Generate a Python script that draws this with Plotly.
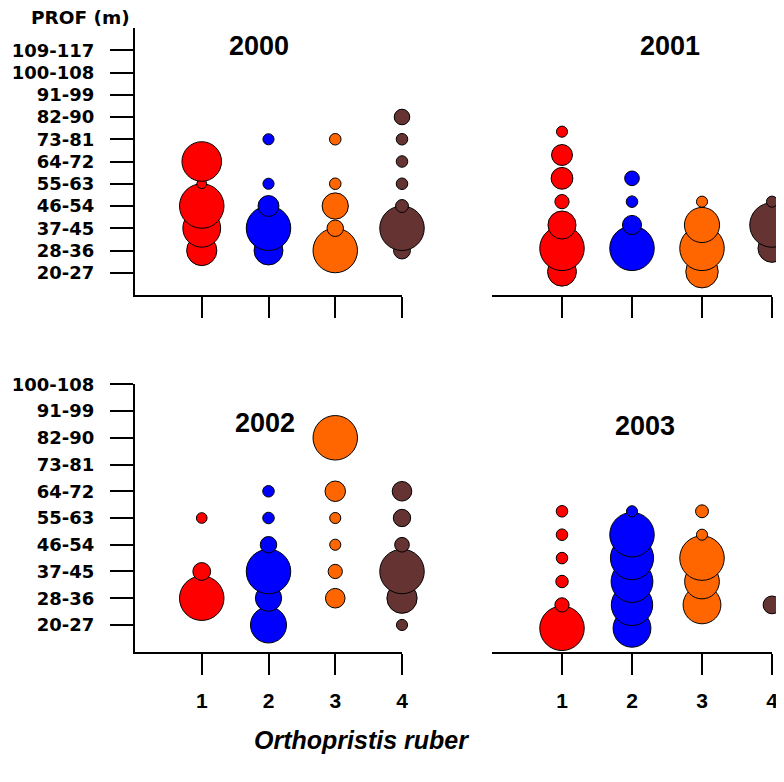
import plotly.graph_objects as go

W, H = 784, 782
OFF = 8  # page body margin compensation (px)

# ---------------- data ----------------
DEPTH_CLASSES = ["20-27", "28-36", "37-45", "46-54", "55-63", "64-72",
                 "73-81", "82-90", "91-99", "100-108", "109-117"]
QUARTERS = [1, 2, 3, 4]
YEARS = ["2000", "2001", "2002", "2003"]

# depth classes present per quarter (1..4) and relative bubble size (100 = largest)
depth_2000 = [
    ["28-36", "37-45", "46-54", "55-63", "64-72"],
    ["28-36", "37-45", "46-54", "55-63", "73-81"],
    ["28-36", "37-45", "46-54", "55-63", "73-81"],
    ["28-36", "37-45", "46-54", "55-63", "64-72", "73-81", "82-90"],
]
size_2000 = [
    [68, 85, 100, 22, 89],
    [65, 100, 47, 25, 25],
    [100, 37, 59, 26, 26],
    [38, 100, 29, 26, 26, 26, 35],
]

depth_2001 = [
    ["20-27", "28-36", "37-45", "46-54", "55-63", "64-72", "73-81"],
    ["28-36", "37-45", "46-54", "55-63"],
    ["20-27", "28-36", "37-45", "46-54"],
    ["28-36", "37-45", "46-54"],
]
size_2001 = [
    [65, 100, 63, 32, 49, 47, 25],
    [100, 43, 26, 33],
    [73, 100, 79, 25],
    [63, 100, 25],
]

depth_2002 = [
    ["28-36", "37-45", "55-63"],
    ["20-27", "28-36", "37-45", "46-54", "55-63", "64-72"],
    ["28-36", "37-45", "46-54", "55-63", "64-72", "82-90"],
    ["20-27", "28-36", "37-45", "46-54", "55-63", "64-72"],
]
size_2002 = [
    [100, 40, 24],
    [81, 59, 100, 37, 26, 26],
    [44, 32, 25, 25, 46, 100],
    [25, 68, 100, 33, 39, 44],
]

depth_2003 = [
    ["20-27", "28-36", "37-45", "46-54", "55-63", "64-72"],
    ["20-27", "28-36", "37-45", "46-54", "55-63", "64-72"],
    ["28-36", "37-45", "46-54", "55-63", "64-72"],
    ["28-36"],
]
size_2003 = [
    [100, 32, 28, 26, 26, 26],
    [85, 93, 94, 97, 100, 25],
    [85, 78, 100, 25, 29],
    [40],
]

# ---------------- styling / layout ----------------
COLORS = ["#FF0000", "#0000FF", "#FF6600", "#663333"]
SIZEREF = 100 / 44.5

def px_x(x):
    return (x - OFF) / W

def px_y(y):
    return 1 - (y - OFF) / H

def xdom(x0, x1):
    return [px_x(x0), px_x(x1)]

def ydom(top, bottom):
    return [px_y(bottom), px_y(top)]

# (year, depths, sizes, x-domain px, y-domain px (top,bottom), y range max, n labels, left axis?, x labels?, title pos)
panels = [
    ("2000", depth_2000, size_2000, (135, 402), (28, 295), 12, 11, True, False, (258.5, 46)),
    ("2001", depth_2001, size_2001, (492, 772), (15, 295), 12, 11, False, False, (670, 46)),
    ("2002", depth_2002, size_2002, (135, 402), (384.3, 651.7), 10, 10, True, True, (265.3, 423)),
    ("2003", depth_2003, size_2003, (492, 772), (417.7, 651.7), 10, 10, False, True, (644.5, 425.5)),
]

fig = go.Figure()
layout = dict(
    template="none",
    width=W, height=H, autosize=False,
    margin=dict(l=0, r=0, t=0, b=0, pad=0, autoexpand=False),
    paper_bgcolor="white", plot_bgcolor="white",
    showlegend=False,
)
annotations = []

for i, (year, depths, sizes, xd, yd, ymax, nlab, left, xlab, tpos) in enumerate(panels):
    n = "" if i == 0 else str(i + 1)
    xa, ya = "xaxis" + n, "yaxis" + n
    for q, dlist, slist, col in zip(QUARTERS, depths, sizes, COLORS):
        fig.add_trace(go.Scatter(
            x=[q] * len(dlist),
            y=[DEPTH_CLASSES.index(d) + 1 for d in dlist],
            mode="markers",
            marker=dict(size=slist, sizemode="diameter", sizeref=SIZEREF,
                        color=col, opacity=1,
                        line=dict(color="black", width=1)),
            cliponaxis=False,
            xaxis="x" + n, yaxis="y" + n,
            hoverinfo="skip",
        ))
    layout[xa] = dict(
        domain=xdom(*xd), range=[0, 4], anchor="y" + n, automargin=False,
        showline=True, linecolor="black", linewidth=2,
        showgrid=False, zeroline=False,
        tickmode="array", tickvals=QUARTERS,
        ticktext=[str(q) for q in QUARTERS],
        ticks="outside", ticklen=21, tickwidth=2, tickcolor="black",
        showticklabels=xlab,
        tickfont=dict(family="Liberation Sans", size=21, color="black", weight="bold"),
        ticklabelstandoff=8,
    )
    layout[ya] = dict(
        domain=ydom(*yd), range=[0, ymax], anchor="x" + n, automargin=False,
        showline=left, linecolor="black", linewidth=2,
        showgrid=False, zeroline=False,
        tickmode="array", tickvals=list(range(1, nlab + 1)),
        ticktext=DEPTH_CLASSES[:nlab],
        ticks="outside" if left else "", ticklen=23, tickwidth=2, tickcolor="black",
        showticklabels=left,
        tickfont=dict(family="DejaVu Sans", size=18, color="black", weight="bold"),
        ticklabelstandoff=12,
    )
    annotations.append(dict(
        text=year, x=px_x(tpos[0]), y=px_y(tpos[1]), xref="paper", yref="paper",
        xanchor="center", yanchor="middle", showarrow=False,
        font=dict(family="Liberation Sans", size=27, color="black", weight="bold"),
    ))

annotations.append(dict(
    text="PROF (m)", x=px_x(80), y=px_y(17), xref="paper", yref="paper",
    xanchor="center", yanchor="middle", showarrow=False,
    font=dict(family="DejaVu Sans", size=18.5, color="black", weight="bold"),
))
annotations.append(dict(
    text="Orthopristis ruber", x=px_x(361), y=px_y(740), xref="paper", yref="paper",
    xanchor="center", yanchor="middle", showarrow=False,
    font=dict(family="Liberation Sans", size=25, color="black",
              weight="bold", style="italic"),
))

layout["annotations"] = annotations
fig.update_layout(**layout)
fig.write_html("out.html")
